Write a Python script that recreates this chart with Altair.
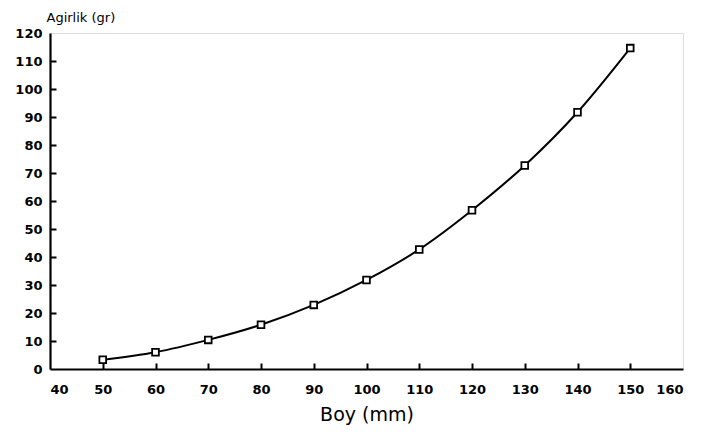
import altair as alt
import pandas as pd

# data
boy = [50, 60, 70, 80, 90, 100, 110, 120, 130, 140, 150]
agirlik = [3.3, 6.0, 10.4, 15.8, 22.9, 31.8, 42.7, 56.7, 72.7, 91.7, 114.6]
x_ticks = [40, 50, 60, 70, 80, 90, 100, 110, 120, 130, 140, 150, 160]
y_ticks = [0, 10, 20, 30, 40, 50, 60, 70, 80, 90, 100, 110, 120]

df = pd.DataFrame({"boy": boy, "agirlik": agirlik})

FONT = "DejaVu Sans"
W, H = 633, 336

xscale = alt.Scale(domain=[40, 160], nice=False, zero=False, padding=0)
yscale = alt.Scale(domain=[0, 120], nice=False, padding=0)

xaxis = alt.Axis(values=x_ticks, ticks=False, grid=False, title="Boy (mm)", labelOverlap=False,
                 labelFont=FONT, labelFontSize=13, labelFontWeight="bold", labelColor="black",
                 labelPadding=14, titleFont=FONT, titleFontSize=19, titleFontWeight="normal",
                 titleColor="black", titlePadding=9, domainColor="black", domainWidth=2.2)
yaxis = alt.Axis(values=y_ticks, ticks=False, grid=False, title="Agirlik (gr)", labelOverlap=False,
                 labelFont=FONT, labelFontSize=13, labelFontWeight="bold", labelColor="black",
                 labelPadding=8, titleFont=FONT, titleFontSize=13, titleFontWeight="normal",
                 titleColor="black", titleAngle=0, titleAlign="left", titleBaseline="middle",
                 titleX=-4, titleY=-16, domainColor="black", domainWidth=2.2)

# inward tick marks: axes on the opposite side, shifted onto the frame's bottom / left edge
xin = alt.Axis(orient="top", offset=-H, values=x_ticks[1:-1], labels=False, domain=False,
               grid=False, title=None, ticks=True, tickSize=6, tickWidth=2, tickColor="black")
yin = alt.Axis(orient="right", offset=-W, values=y_ticks[1:-1], labels=False, domain=False,
               grid=False, title=None, ticks=True, tickSize=6, tickWidth=2, tickColor="black")

line = alt.Chart(df).mark_line(color="black", strokeWidth=2, interpolate="monotone").encode(
    x=alt.X("boy:Q", scale=xscale, axis=xaxis),
    y=alt.Y("agirlik:Q", scale=yscale, axis=yaxis),
)
pts = alt.Chart(df).mark_point(shape="square", filled=True, fill="white", stroke="black",
                               strokeWidth=1.8, size=45, opacity=1).encode(
    x=alt.X("boy:Q", scale=xscale, axis=None),
    y=alt.Y("agirlik:Q", scale=yscale, axis=None),
)
ticks = alt.Chart(df).mark_point(opacity=0).encode(
    x=alt.X("boy:Q", scale=xscale, axis=xin),
    y=alt.Y("agirlik:Q", scale=yscale, axis=yin),
)

chart = alt.layer(line, pts, ticks).resolve_axis(x="independent", y="independent").properties(
    width=W, height=H,
    autosize=alt.AutoSizeParams(type="none"),
    padding={"left": 42, "top": 25, "right": 10, "bottom": 60},
).configure_view(stroke="black", strokeWidth=1.6).configure(background="white")

chart.save("out.html", embed_options={"renderer": "svg", "actions": False})
